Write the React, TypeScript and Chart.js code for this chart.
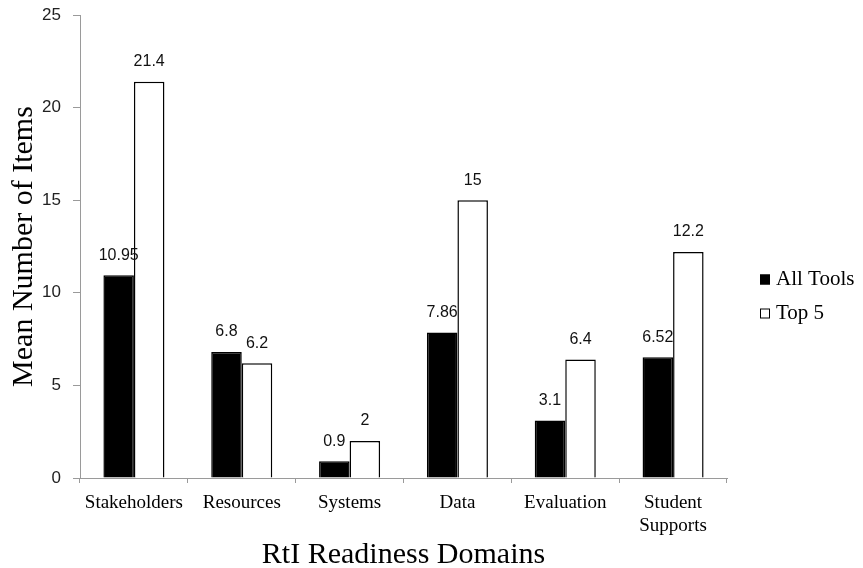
import React, { useEffect, useRef } from "react";
import { Chart, registerables } from "chart.js";

Chart.register(...registerables);

const categories: (string | string[])[] = [
  "Stakeholders",
  "Resources",
  "Systems",
  "Data",
  "Evaluation",
  ["Student", "Supports"],
];
const seriesNames = ["All Tools", "Top 5"];
const allTools = [10.95, 6.8, 0.9, 7.86, 3.1, 6.52];
const top5 = [21.4, 6.2, 2, 15, 6.4, 12.2];
const yMin = 0;
const yMax = 25;
const yStep = 5;
const xTitle = "RtI Readiness Domains";
const yTitle = "Mean Number of Items";

const SANS = "'Liberation Sans', 'DejaVu Sans', sans-serif";
const SERIF = "'Liberation Serif', 'DejaVu Serif', serif";

const valueLabels = {
  id: "valueLabels",
  afterDatasetsDraw(chart: any) {
    const ctx = chart.ctx;
    ctx.save();
    ctx.font = `16px ${SANS}`;
    ctx.fillStyle = "#111";
    ctx.textAlign = "center";
    ctx.textBaseline = "middle";
    chart.data.datasets.forEach((ds: any, di: number) => {
      const meta = chart.getDatasetMeta(di);
      meta.data.forEach((bar: any, i: number) => {
        ctx.fillText(String(ds.data[i]), bar.x, bar.y - 20);
      });
    });
    ctx.restore();
  },
};

const sideLegend = {
  id: "sideLegend",
  afterDraw(chart: any) {
    const ctx = chart.ctx;
    const area = chart.chartArea;
    const x0 = area.right + 33;
    const yc = (area.top + area.bottom) / 2 + 50;
    const gap = 34;
    ctx.save();
    ctx.font = `21px ${SERIF}`;
    ctx.textBaseline = "middle";
    ctx.textAlign = "left";
    chart.data.datasets.forEach((ds: any, i: number) => {
      const cy = yc - gap / 2 + i * gap;
      ctx.fillStyle = ds.backgroundColor;
      ctx.strokeStyle = "#000";
      ctx.lineWidth = 1;
      ctx.fillRect(x0, cy - 5, 10, 10);
      ctx.strokeRect(x0 + 0.5, cy - 4.5, 9, 9);
      ctx.fillStyle = "#000";
      ctx.fillText(ds.label, x0 + 16, cy);
    });
    ctx.restore();
  },
};

export default function App() {
  const ref = useRef<HTMLCanvasElement | null>(null);
  useEffect(() => {
    if (!ref.current) return;
    const chart = new Chart(ref.current, {
      type: "bar",
      data: {
        labels: categories as any,
        datasets: [
          {
            label: seriesNames[0],
            data: allTools,
            backgroundColor: "#000000",
            borderColor: "#000000",
            borderWidth: 1.5,
            categoryPercentage: 0.566,
            barPercentage: 1,
          },
          {
            label: seriesNames[1],
            data: top5,
            backgroundColor: "#ffffff",
            borderColor: "#000000",
            borderWidth: 1.5,
            categoryPercentage: 0.566,
            barPercentage: 1,
          },
        ],
      },
      options: {
        animation: false,
        responsive: true,
        maintainAspectRatio: false,
        layout: { padding: { top: 15, right: 136, bottom: 0, left: 6 } },
        plugins: {
          legend: { display: false },
          tooltip: { enabled: false },
        },
        scales: {
          x: {
            grid: {
              display: true,
              drawOnChartArea: false,
              tickLength: 5,
              color: "#9a9a9a",
              offset: true,
            },
            border: { color: "#9a9a9a", width: 1 },
            ticks: {
              font: { family: SERIF, size: 19 },
              color: "#000",
              padding: 9,
              maxRotation: 0,
              autoSkip: false,
            },
            title: {
              display: true,
              text: xTitle,
              font: { family: SERIF, size: 30 },
              color: "#000",
              padding: { top: 0, bottom: -5 },
            },
            afterFit: (s: any) => {
              s.height = 90;
              s.paddingLeft = 0;
              s.paddingRight = 0;
            },
          },
          y: {
            min: yMin,
            max: yMax,
            grid: {
              display: true,
              drawOnChartArea: false,
              tickLength: 7,
              color: "#9a9a9a",
            },
            border: { color: "#9a9a9a", width: 1 },
            ticks: {
              stepSize: yStep,
              font: { family: SANS, size: 17 },
              color: "#222",
              padding: 12,
            },
            title: {
              display: true,
              text: yTitle,
              font: { family: SERIF, size: 30 },
              color: "#000",
              padding: { top: 0, bottom: 0 },
            },
            afterFit: (s: any) => {
              s.width = 74;
              s.paddingTop = 0;
              s.paddingBottom = 0;
            },
          },
        },
      },
      plugins: [valueLabels, sideLegend],
    });
    return () => chart.destroy();
  }, []);
  return (
    <div style={{ position: "fixed", left: 0, top: 0, width: 863, height: 568, background: "#fff" }}>
      <canvas ref={ref} />
    </div>
  );
}
